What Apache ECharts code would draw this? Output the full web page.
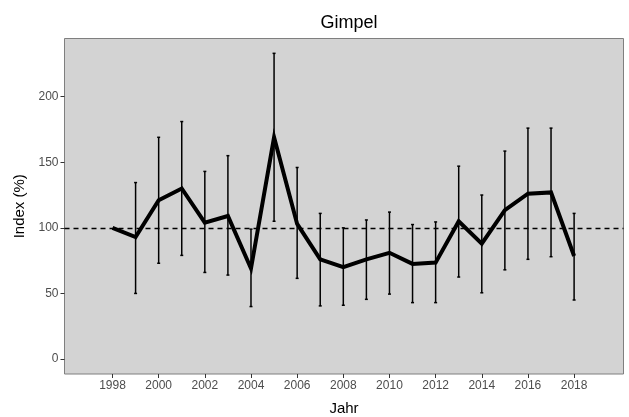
<!DOCTYPE html>
<html>
<head>
<meta charset="utf-8">
<script src="https://cdn.jsdelivr.net/npm/echarts@6/dist/echarts.min.js"></script>
<style>
  html, body { margin: 0; padding: 0; background: #ffffff; }
  #chart { width: 629px; height: 417px; }
</style>
</head>
<body>
<div id="chart"></div>
<script>
// Bullfinch (Gimpel) population index, 1998 = 100 %
const years = [1998, 1999, 2000, 2001, 2002, 2003, 2004, 2005, 2006, 2007, 2008,
               2009, 2010, 2011, 2012, 2013, 2014, 2015, 2016, 2017, 2018];
const indexValues = [100, 93, 121, 130, 104, 109, 69, 169, 103, 76, 70,
                     76, 81, 72.5, 73.5, 105, 88, 113.5, 126, 127, 78.5];
const lowerCI = [null, 50, 73, 79, 66, 64, 40, 105, 61.5, 40.5, 41,
                 45.5, 49.5, 43, 43, 62.5, 50.5, 68, 76, 78, 45];
const upperCI = [null, 134.5, 169, 181, 143, 155, 99, 233, 146, 111, 100,
                 106, 112, 102.5, 104.5, 147, 125, 158.5, 176, 176, 111];
const xTicks = [1998, 2000, 2002, 2004, 2006, 2008, 2010, 2012, 2014, 2016, 2018];
const yTicks = [0, 50, 100, 150, 200];
const referenceLevel = 100;

const lineData = years.map((y, i) => [y, indexValues[i]]);
const barData = years
  .map((y, i) => [y, lowerCI[i], upperCI[i]])
  .filter(d => d[1] != null && d[2] != null);

const chart = echarts.init(document.getElementById('chart'), null, { renderer: 'canvas' });
const fontFamily = '"Liberation Sans", Arial, sans-serif';

chart.setOption({
  animation: false,
  backgroundColor: '#ffffff',
  title: {
    text: 'Gimpel',
    left: 344,
    textAlign: 'center',
    top: 9,
    textStyle: { fontFamily, fontSize: 18, fontWeight: 'normal', color: '#000000' }
  },
  grid: {
    left: 64.5, right: 5.5, top: 38.5, bottom: 43,
    outerBoundsMode: 'none',
    containLabel: false,
    show: true,
    backgroundColor: '#d3d3d3',
    borderColor: '#7f7f7f',
    borderWidth: 1
  },
  xAxis: {
    type: 'value',
    min: 1995.92,
    max: 2020.14,
    name: 'Jahr',
    nameLocation: 'middle',
    nameGap: 27,
    nameTextStyle: { fontFamily, fontSize: 15, color: '#000000' },
    axisLine: { show: false, onZero: false },
    axisTick: { show: true, customValues: xTicks, length: 4, lineStyle: { color: '#333333', width: 1 } },
    axisLabel: {
      customValues: xTicks, margin: 6,
      fontFamily, fontSize: 12, color: '#4d4d4d',
      formatter: v => String(v)
    },
    splitLine: { show: false }
  },
  yAxis: {
    type: 'value',
    min: -11.4,
    max: 244.3,
    name: 'Index (%)',
    nameLocation: 'middle',
    nameGap: 34,
    nameRotate: 90,
    nameTextStyle: { fontFamily, fontSize: 15, color: '#000000' },
    axisLine: { show: false, onZero: false },
    axisTick: { show: true, customValues: yTicks, length: 4, lineStyle: { color: '#333333', width: 1 } },
    axisLabel: {
      customValues: yTicks, margin: 6,
      fontFamily, fontSize: 12, color: '#4d4d4d'
    },
    splitLine: { show: false }
  },
  series: [
    {
      // confidence interval whiskers
      type: 'custom',
      z: 2,
      data: barData,
      renderItem: function (params, api) {
        const x = api.value(0);
        const lo = api.coord([x, api.value(1)]);
        const hi = api.coord([x, api.value(2)]);
        const cap = 1.5;
        const style = { stroke: '#000000', lineWidth: 1.5 };
        return {
          type: 'group',
          children: [
            { type: 'line', shape: { x1: lo[0], y1: lo[1], x2: hi[0], y2: hi[1] }, style },
            { type: 'line', shape: { x1: hi[0] - cap, y1: hi[1], x2: hi[0] + cap, y2: hi[1] }, style },
            { type: 'line', shape: { x1: lo[0] - cap, y1: lo[1], x2: lo[0] + cap, y2: lo[1] }, style }
          ]
        };
      }
    },
    {
      type: 'line',
      z: 3,
      data: lineData,
      symbol: 'none',
      lineStyle: { color: '#000000', width: 4, join: 'miter' },
      markLine: {
        silent: true,
        symbol: 'none',
        label: { show: false },
        lineStyle: { color: '#000000', width: 1.3, type: [5, 4] },
        data: [{ yAxis: referenceLevel }]
      }
    }
  ]
});
</script>
</body>
</html>
